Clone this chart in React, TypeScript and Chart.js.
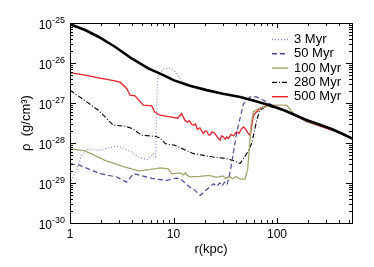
import React, { useEffect, useRef } from "react";
import { Chart, registerables } from "chart.js";

Chart.register(...registerables);

// Initial profile (thick black, no legend entry)
const rInit = [1, 1.4, 1.88, 2.72, 3.94, 5.7, 7.98, 10, 14.4, 20.9, 30, 44, 60, 85, 120, 194, 260, 350, 530];
const rhoInit = [9.3e-26, 6.68e-26, 4.54e-26, 2.55e-26, 1.3e-26, 7.33e-27, 4.98e-27, 3.73e-27, 2.71e-27, 2.1e-27, 1.71e-27, 1.42e-27, 1.14e-27, 8.8e-28, 6.41e-28, 3.71e-28, 2.86e-28, 2.14e-28, 1.31e-28];

// 3 Myr (dotted)
const r3 = [1, 1.15, 1.3, 1.45, 1.9, 2.72, 3.04, 3.94, 4.58, 5.6, 6.0, 6.4, 6.7, 6.85, 7.0, 7.3, 8.0, 9.2, 10.5, 11.6, 13, 14.4, 20.9, 30, 44, 60, 85, 120, 194, 260, 350, 530];
const rho3 = [9.77e-30, 2.07e-29, 4.92e-29, 6.95e-29, 6.56e-29, 8.26e-29, 7.94e-29, 5.94e-29, 4.45e-29, 3.84e-29, 4.45e-29, 5.42e-29, 4.6e-29, 3.71e-28, 3.73e-27, 5.58e-27, 7.03e-27, 7.45e-27, 5.92e-27, 3.95e-27, 2.96e-27, 2.64e-27, 2.1e-27, 1.71e-27, 1.42e-27, 1.14e-27, 8.8e-28, 6.41e-28, 3.71e-28, 2.86e-28, 2.14e-28, 1.31e-28];

// 50 Myr (dashed)
const r50 = [1, 1.25, 1.95, 2.83, 3.53, 4.1, 6.38, 8.6, 10.7, 11.6, 14.4, 15.6, 18.1, 20, 24.4, 26, 28, 29.5, 31, 32.9, 35.5, 38.2, 41.2, 47.5, 55, 63.7, 79.3, 90, 120, 194, 260, 350, 530];
const rho50 = [3.05e-29, 2.76e-29, 1.71e-29, 1.41e-29, 1.05e-29, 1.71e-29, 1.28e-29, 1.16e-29, 1.33e-29, 1.28e-29, 7.88e-30, 7.19e-30, 4.89e-30, 6.2e-30, 9.6e-30, 8.2e-30, 1.0e-29, 8.4e-30, 1.05e-29, 9.0e-30, 2.07e-29, 6.56e-29, 2.08e-28, 9.7e-28, 1.42e-27, 1.42e-27, 1.07e-27, 8.8e-28, 6.41e-28, 3.71e-28, 2.86e-28, 2.14e-28, 1.31e-28];

// 100 Myr (olive)
const r100 = [1, 1.4, 2.18, 3.4, 4.6, 6.0, 7.5, 8.9, 9.6, 11.5, 12.5, 13, 13.6, 14.4, 18, 22, 26, 30, 32, 35, 37, 40, 44, 49, 52, 54, 56, 59, 66, 91, 124, 144, 194, 260, 350, 530];
const rho100 = [7.16e-29, 6.38e-29, 3.68e-29, 2.51e-29, 2.01e-29, 2.19e-29, 2.39e-29, 2.25e-29, 1.69e-29, 1.79e-29, 1.6e-29, 1.8e-29, 1.55e-29, 1.42e-29, 1.46e-29, 1.55e-29, 1.38e-29, 1.5e-29, 1.3e-29, 1.45e-29, 1.28e-29, 1.46e-29, 1.25e-29, 1.25e-29, 2.2e-29, 7.0e-29, 2.78e-28, 5.98e-28, 7.28e-28, 8.8e-28, 8.8e-28, 5.46e-28, 3.36e-28, 2.8e-28, 2.1e-28, 1.28e-28];

// 280 Myr (dash-dot)
const r280 = [1, 1.88, 2.62, 3.4, 4.0, 4.93, 6.6, 7.4, 8.3, 10.3, 15.6, 24.3, 32.6, 38, 44, 51, 57, 63.7, 68, 80, 120, 194, 260, 350, 530];
const rho280 = [2.1e-27, 6.6e-28, 2.78e-28, 2.63e-28, 2.3e-28, 1.56e-28, 1.47e-28, 1.35e-28, 9.66e-29, 8.76e-29, 5.42e-29, 4.45e-29, 4.06e-29, 3.6e-29, 3.05e-29, 5.42e-29, 9.8e-29, 3.71e-28, 6.6e-28, 8.55e-28, 6.5e-28, 3.8e-28, 2.9e-28, 2.14e-28, 1.31e-28];

// 500 Myr (red)
const r500 = [1, 1.4, 1.88, 2.72, 3.04, 3.53, 3.8, 4.25, 5.1, 6.15, 6.6, 7.4, 9.27, 11, 12, 12.9, 13.6, 14.3, 15.0, 15.6, 16.3, 17, 18, 19.4, 20.2, 21, 21.8, 22.5, 23.5, 25, 26.5, 28.2, 29, 30, 31.5, 32.7, 34, 36, 38, 40.7, 43, 45, 47.4, 50, 52.8, 55, 59.2, 68, 80, 88, 110, 150, 194, 260, 350, 440, 530];
const rho500 = [5.74e-27, 4.98e-27, 4.26e-27, 3.58e-27, 3.32e-27, 2.31e-27, 1.57e-27, 1.51e-27, 8.8e-28, 8.45e-28, 5.98e-28, 4.94e-28, 4.49e-28, 4.16e-28, 5.46e-28, 3.71e-28, 3.3e-28, 3.6e-28, 2.9e-28, 2.78e-28, 3.0e-28, 2.2e-28, 2.4e-28, 1.72e-28, 2.0e-28, 1.96e-28, 1.6e-28, 1.56e-28, 1.9e-28, 1.75e-28, 1.4e-28, 1.17e-28, 1.5e-28, 1.47e-28, 1.25e-28, 1.41e-28, 1.3e-28, 1.65e-28, 1.5e-28, 1.89e-28, 1.75e-28, 2.2e-28, 2.52e-28, 2.2e-28, 1.72e-28, 1.56e-28, 4.94e-28, 7.28e-28, 8.55e-28, 8.8e-28, 7.0e-28, 4.8e-28, 3.4e-28, 2.63e-28, 2.04e-28, 1.75e-28, 1.23e-28];

const legendLabels = ["3 Myr", "50 Myr", "100 Myr", "280 Myr", "500 Myr"];
const xTickValues = [1, 10, 100];
const yExponents = [-25, -26, -27, -28, -29, -30];
const X_MIN = 1;
const X_MAX = 530;
const Y_MIN = 1e-30;
const Y_MAX = 1e-25;

const FONT = "'Liberation Sans', Arial, Helvetica, sans-serif";

function pts(r: number[], v: number[]) {
  return r.map((x, i) => ({ x, y: v[i] }));
}

const decorPlugin = {
  id: "decor",
  afterDatasetsDraw(chart: any) {
    const { ctx, chartArea: ca, scales } = chart;
    const xs = scales.x;
    const ys = scales.y;
    ctx.save();
    ctx.strokeStyle = "#000";
    ctx.lineWidth = 1;
    ctx.setLineDash([]);
    ctx.strokeRect(Math.round(ca.left) + 0.5, Math.round(ca.top) + 0.5, Math.round(ca.right - ca.left), Math.round(ca.bottom - ca.top));

    ctx.beginPath();
    for (let k = 0; k <= 2; k++) {
      for (let m = 1; m <= 9; m++) {
        const v = m * Math.pow(10, k);
        if (v > X_MAX) continue;
        const px = Math.round(xs.getPixelForValue(v)) + 0.5;
        const len = m === 1 ? 5 : 3;
        ctx.moveTo(px, ca.bottom);
        ctx.lineTo(px, ca.bottom - len);
        ctx.moveTo(px, ca.top);
        ctx.lineTo(px, ca.top + len);
      }
    }
    for (let e = -30; e <= -26; e++) {
      for (let m = 1; m <= 9; m++) {
        const v = m * Math.pow(10, e);
        const py = Math.round(ys.getPixelForValue(v)) + 0.5;
        const len = m === 1 ? 6 : 3;
        ctx.moveTo(ca.left, py);
        ctx.lineTo(ca.left + len, py);
        ctx.moveTo(ca.right, py);
        ctx.lineTo(ca.right - len, py);
      }
    }
    ctx.stroke();

    ctx.fillStyle = "#000";
    ctx.font = `12px ${FONT}`;
    ctx.textAlign = "center";
    ctx.textBaseline = "middle";
    xTickValues.forEach((v) => {
      ctx.fillText(String(v), xs.getPixelForValue(v), ca.bottom + 12);
    });

    yExponents.forEach((e) => {
      const py = ys.getPixelForValue(Math.pow(10, e));
      const expStr = String(e);
      ctx.font = `9px ${FONT}`;
      const ew = ctx.measureText(expStr).width;
      const right = ca.left - 5;
      ctx.textAlign = "left";
      ctx.textBaseline = "middle";
      ctx.fillText(expStr, right - ew, py - 2);
      ctx.font = `12px ${FONT}`;
      ctx.textAlign = "right";
      ctx.fillText("10", right - ew, py + 3);
    });

    ctx.font = `13px ${FONT}`;
    ctx.textAlign = "center";
    ctx.textBaseline = "middle";
    ctx.fillText("r(kpc)", (ca.left + ca.right) / 2, ca.bottom + 26);
    ctx.save();
    ctx.translate(26, (ca.top + ca.bottom) / 2);
    ctx.rotate(-Math.PI / 2);
    ctx.fillText("ρ  (g/cm³)", 0, 0);
    ctx.restore();

    const ds = chart.data.datasets;
    const x0 = ca.right - 80;
    const y0 = ca.top + 16.5;
    legendLabels.forEach((lab, i) => {
      const d = ds[i + 1];
      const y = y0 + i * 14.3;
      ctx.beginPath();
      ctx.strokeStyle = d.borderColor;
      ctx.lineWidth = 1.4;
      ctx.setLineDash(d.borderDash || []);
      ctx.moveTo(x0, y);
      ctx.lineTo(x0 + 16, y);
      ctx.stroke();
      ctx.setLineDash([]);
      ctx.fillStyle = "#000";
      ctx.font = `13px ${FONT}`;
      ctx.textAlign = "left";
      ctx.textBaseline = "middle";
      ctx.fillText(lab, x0 + 22, y);
    });
    ctx.restore();
  },
};

export default function App() {
  const ref = useRef<HTMLCanvasElement | null>(null);
  useEffect(() => {
    document.body.style.margin = "0";
    const canvas = ref.current;
    if (!canvas) return;
    const line = (label: string, r: number[], v: number[], color: string, width: number, dash: number[]) => ({
      label,
      data: pts(r, v),
      borderColor: color,
      backgroundColor: color,
      borderWidth: width,
      borderDash: dash,
      pointRadius: 0,
      tension: 0,
      fill: false,
    });
    const chart = new Chart(canvas, {
      type: "line",
      data: {
        datasets: [
          line("initial", rInit, rhoInit, "#000000", 2.6, []),
          line(legendLabels[0], r3, rho3, "#8a8ae0", 1.2, [1, 2]),
          line(legendLabels[1], r50, rho50, "#4a4a98", 1.2, [5, 3]),
          line(legendLabels[2], r100, rho100, "#a6a46a", 1.3, []),
          line(legendLabels[3], r280, rho280, "#000000", 1.1, [5, 2, 1, 2]),
          line(legendLabels[4], r500, rho500, "#e3232b", 1.3, []),
        ],
      },
      options: {
        responsive: false,
        animation: false,
        devicePixelRatio: 1,
        layout: { padding: { left: 70, top: 23, right: 22, bottom: 44 } },
        plugins: { legend: { display: false }, tooltip: { enabled: false } },
        scales: {
          x: { type: "logarithmic", min: X_MIN, max: X_MAX, display: false },
          y: { type: "logarithmic", min: Y_MIN, max: Y_MAX, display: false },
        },
      },
      plugins: [decorPlugin],
    } as any);
    return () => chart.destroy();
  }, []);
  return (
    <div style={{ width: 374, height: 267 }}>
      <canvas ref={ref} width={374} height={267} style={{ display: "block" }} />
    </div>
  );
}
